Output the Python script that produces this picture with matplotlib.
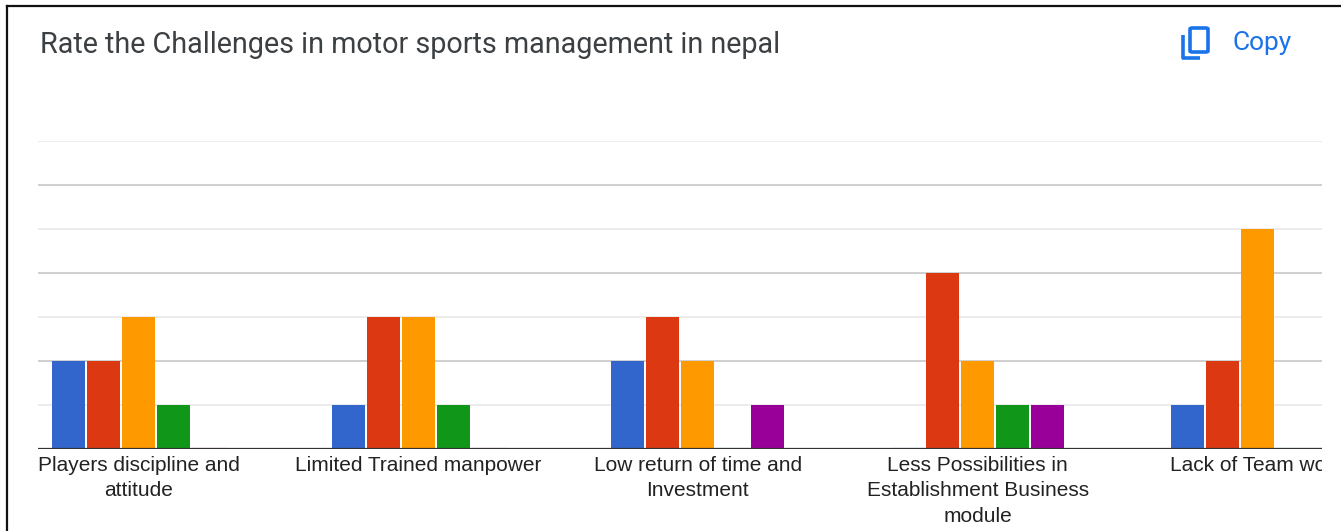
import numpy as np
import matplotlib
matplotlib.use("Agg")
import matplotlib.pyplot as plt
from matplotlib.patches import Rectangle, FancyBboxPatch
from matplotlib.lines import Line2D

title = "Rate the Challenges in motor sports management in nepal"
categories = [
    "Players discipline and\nattitude",
    "Limited Trained manpower",
    "Low return of time and\nInvestment",
    "Less Possibilities in\nEstablishment Business\nmodule",
    "Lack of Team work",
]
series_names = ["1", "2", "3", "4", "5"]
series_colors = ["#3366cc", "#dc3912", "#ff9900", "#109618", "#990099"]
values = [
    [2, 1, 2, 0, 1],   # 1
    [2, 3, 3, 4, 2],   # 2
    [3, 3, 2, 2, 5],   # 3
    [1, 1, 0, 1, 0],   # 4
    [0, 0, 1, 1, 0],   # 5
]

W, H = 1341, 531
fig = plt.figure(figsize=(W / 100, H / 100), dpi=100)

ax = fig.add_axes([38 / W, 1 - 449 / H, (1322 - 38) / W, (449 - 141) / H])

x = np.arange(len(categories))
grp = 279.7
step = 35 / grp
width = 33 / grp
for i, (name, col) in enumerate(zip(series_names, series_colors)):
    offs = (i - 2) * step
    ax.bar(x + offs, values[i], width=width, color=col, edgecolor="none",
           zorder=3, label=name)
    # google draws a faint sliver for zero values
    for xi, v in zip(x, values[i]):
        if v == 0:
            ax.plot([xi + offs - width / 2, xi + offs + width / 2], [0.02, 0.02],
                    color=col, alpha=0.25, lw=1, zorder=3)

ax.set_xlim((38 - 138.5) / grp, (1322 - 138.5) / grp)
ax.set_ylim(0, 7)

for yv in range(1, 8):
    gc = "#cccccc" if yv % 2 == 0 else "#ebebeb"
    ax.axhline(yv, color=gc, lw=1.3, zorder=1)
ax.axhline(0, color="#333333", lw=1.6, zorder=4)

ax.set_yticks([])
ax.set_xticks(x)
ax.set_xticklabels(categories, fontsize=15, color="#222222",
                   family=["Liberation Sans", "DejaVu Sans"], linespacing=1.42)
ax.tick_params(axis="x", length=0, pad=5)
for s in ax.spines.values():
    s.set_visible(False)

# labels are cut off at the right edge of the chart area, as in the screenshot
clip = Rectangle((0, 0), 1322 / W, 1, transform=fig.transFigure)
for lab in ax.get_xticklabels():
    lab.set_clip_path(clip)

# title and copy button
fig.text(40 / W, 1 - 45 / H, title, fontsize=20.7, color="#3c4043",
         family=["Roboto", "DejaVu Sans"], va="center", ha="left")
fig.text(1233 / W, 1 - 43 / H, "Copy", fontsize=19, color="#1a73e8",
         family=["Roboto", "DejaVu Sans"], va="center", ha="left")
blue = "#1a73e8"
fig.add_artist(FancyBboxPatch((1190 / W, 1 - 52 / H), 18 / W, 24 / H,
                              boxstyle="round,pad=0,rounding_size=0.002",
                              transform=fig.transFigure, fill=False,
                              edgecolor=blue, lw=2.6))
fig.add_artist(Line2D([1183 / W, 1183 / W, 1200 / W],
                      [1 - 35 / H, 1 - 58 / H, 1 - 58 / H],
                      transform=fig.transFigure, color=blue, lw=2.6,
                      solid_capstyle="butt"))

# screenshot border
fig.add_artist(Line2D([7 / W, 7 / W], [0, 1 - 6 / H], transform=fig.transFigure,
                      color="#111111", lw=1.6))
fig.add_artist(Line2D([7 / W, 1], [1 - 6 / H, 1 - 6 / H], transform=fig.transFigure,
                      color="#111111", lw=1.6))

fig.savefig("out.png", dpi=100, facecolor="white")
